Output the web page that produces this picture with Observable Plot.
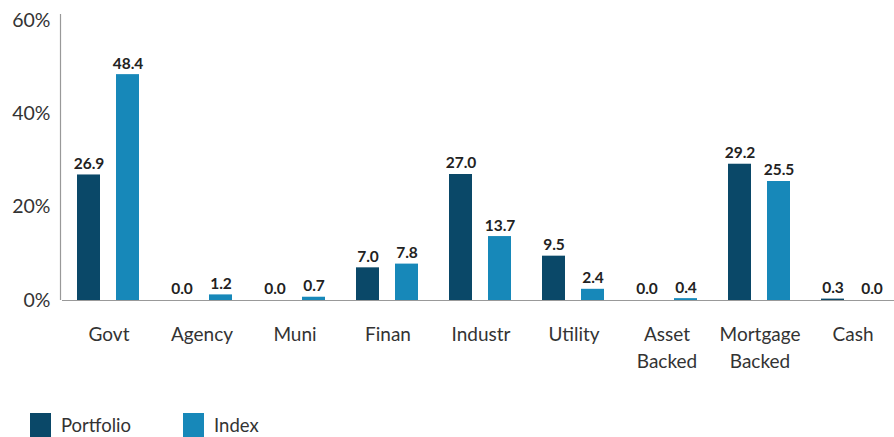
<!DOCTYPE html>
<html><head><meta charset="utf-8">
<script src="https://cdn.jsdelivr.net/npm/d3@7"></script>
<script src="https://cdn.jsdelivr.net/npm/@observablehq/plot@0.6"></script>
<style>
body{margin:0;background:#fff;font-family:Lato,"Open Sans",sans-serif;}
#legend{display:flex;align-items:center;height:37px;padding-left:30px;padding-top:10px;font-size:18.5px;color:#333;}
.sw{display:inline-block;width:21px;height:24px;margin-right:10px;}
.item{display:flex;align-items:center;margin-right:52px;}
</style></head>
<body>
<div id="chart"></div>
<div id="legend"></div>
<script>
const categories = ["Govt","Agency","Muni","Finan","Industr","Utility","Asset\nBacked","Mortgage\nBacked","Cash"];
const portfolio = [26.9,0.0,0.0,7.0,27.0,9.5,0.0,29.2,0.3];
const index = [48.4,1.2,0.7,7.8,13.7,2.4,0.4,25.5,0.0];
const seriesNames = ["Portfolio","Index"];
const colors = ["#0a4868","#1788b9"];
const yTicks = [0,20,40,60];

const data = [];
categories.forEach((c,i)=>{
  data.push({cat:c, series:"Portfolio", value:portfolio[i]});
  data.push({cat:c, series:"Index", value:index[i]});
});

const chart = Plot.plot({
  width: 894,
  height: 396,
  marginTop: 20,
  marginBottom: 96,
  marginLeft: 60,
  marginRight: 0,
  style:{fontFamily:"Lato, sans-serif", color:"#333", background:"#fff"},
  fx:{domain:categories, range:[60,900], padding:0, label:null, axis:null},
  x:{domain:seriesNames, paddingInner:0.4, paddingOuter:0.37, axis:null},
  y:{domain:[0,60], ticks:yTicks, label:null, axis:null},
  color:{domain:seriesNames, range:colors},
  marks:[
    Plot.barY(data,{fx:"cat", x:"series", y:"value", fill:"series"}),
    Plot.text(data,{fx:"cat", x:"series", y:"value", text:d=>d.value.toFixed(1), dy:-11, fontSize:15.5, fontWeight:"bold", fill:"#222"}),
    Plot.axisFx({anchor:"bottom", fontSize:19, tickSize:0, tickPadding:22, label:null, fill:"#333", lineHeight:1.4}),
    Plot.axisY({ticks:yTicks, tickFormat:d=>d+"%", fontSize:19.5, tickSize:0, tickPadding:12, label:null, fill:"#333"}),
    Plot.ruleY([0],{stroke:"#999", strokeWidth:1.2}),
  ]
});
document.getElementById("chart").appendChild(chart);

const svg = d3.select(chart.tagName==="svg"?chart:chart.querySelector("svg"));
const yS = chart.scale("y");
svg.append("line").attr("x1",60.5).attr("x2",60.5).attr("y1",yS.apply(60)-6).attr("y2",yS.apply(0)).attr("stroke","#999").attr("stroke-width",1.2);

const lg = document.getElementById("legend");
seriesNames.forEach((s,i)=>{
  const it=document.createElement("div"); it.className="item";
  it.innerHTML=`<span class="sw" style="background:${colors[i]}"></span><span>${s}</span>`;
  lg.appendChild(it);
});
</script>
</body></html>
